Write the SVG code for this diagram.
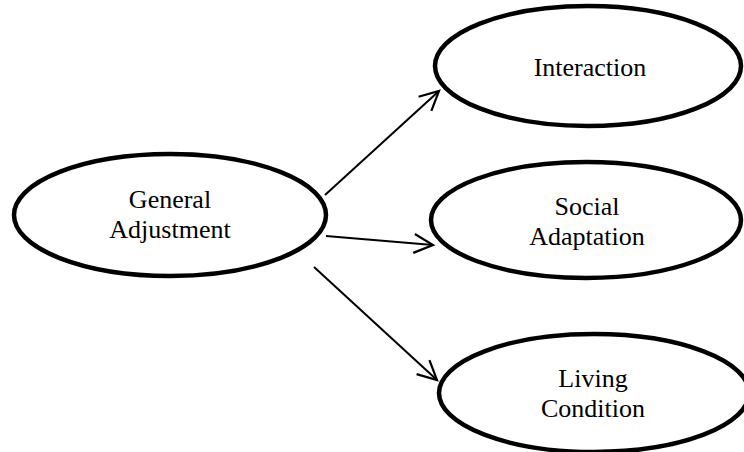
<svg xmlns="http://www.w3.org/2000/svg" width="744" height="452" viewBox="0 0 744 452">
<style>
.node ellipse{fill:#fff;stroke:#000;stroke-width:4.5}
.node text{font-family:"Liberation Serif","Times New Roman",serif;font-size:26px;fill:#000;text-anchor:middle}
.conn line{stroke:#000;stroke-width:2;marker-end:url(#arr)}
</style>
<defs>
<marker id="arr" markerUnits="userSpaceOnUse" markerWidth="26" markerHeight="26" viewBox="-22 -13 26 26" refX="0" refY="0" orient="auto" overflow="visible">
<path d="M-19,-9.5 L0,0 L-19,9.5" fill="none" stroke="#000" stroke-width="2.2"/>
</marker>
</defs>
<rect width="744" height="452" fill="#fff"/>
<g class="conn" id="connectors">
<line x1="325" y1="195" x2="439" y2="91"/>
<line x1="326" y1="236" x2="433" y2="245"/>
<line x1="314" y1="267" x2="437" y2="380"/>
</g>
<g class="node" id="general">
<ellipse cx="170" cy="215" rx="156" ry="61"/>
<text x="170" y="208">General</text>
<text x="170" y="238">Adjustment</text>
</g>
<g class="node" id="interaction">
<ellipse cx="588" cy="66" rx="153" ry="60"/>
<text x="590" y="76">Interaction</text>
</g>
<g class="node" id="social">
<ellipse cx="586" cy="220" rx="155" ry="58"/>
<text x="587" y="215">Social</text>
<text x="587" y="245">Adaptation</text>
</g>
<g class="node" id="living">
<ellipse cx="594" cy="393" rx="155" ry="59"/>
<text x="593" y="387">Living</text>
<text x="593" y="417">Condition</text>
</g>
</svg>
